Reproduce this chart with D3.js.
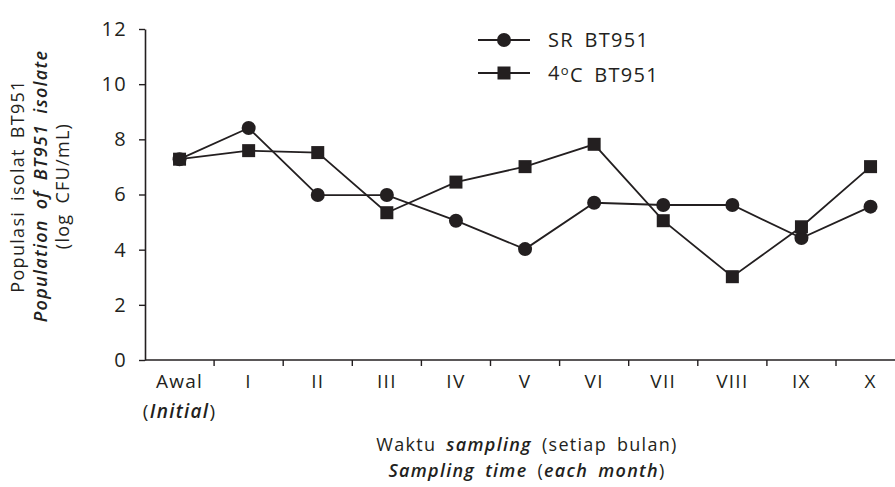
<!DOCTYPE html>
<html>
<head>
<meta charset="utf-8">
<script src="https://cdn.jsdelivr.net/npm/d3@7"></script>
<style>
  body { margin: 0; background: #fff; }
  text { font-family: "Open Sans", sans-serif; fill: #231f20; letter-spacing: 1.3px; word-spacing: 4px; }
</style>
</head>
<body>
<div id="chart"></div>
<script>
// data
var categories = ["Awal", "I", "II", "III", "IV", "V", "VI", "VII", "VIII", "IX", "X"];
var srValues   = [7.28, 8.41, 5.98, 5.98, 5.05, 4.02, 5.70, 5.62, 5.62, 4.42, 5.56];
var coldValues = [7.28, 7.59, 7.52, 5.34, 6.45, 7.01, 7.82, 5.05, 3.02, 4.83, 7.01];
var yTicks = [0, 2, 4, 6, 8, 10, 12];

// set the dimensions and margins of the graph
var margin = {top: 29, right: 0, bottom: 127, left: 145},
  width = 760 - margin.right,
  height = 360 - margin.top;

var svg = d3.select("#chart")
  .append("svg")
    .attr("width", 895)
    .attr("height", 487)
  .append("g")
    .attr("transform", "translate(" + margin.left + "," + margin.top + ")");

// x scale: bands, ticks on band edges
var x = d3.scaleBand()
  .domain(categories)
  .range([0, 69.1 * categories.length]);

var y = d3.scaleLinear()
  .domain([0, 12])
  .range([height, 0]);

// x axis
var xAxis = svg.append("g")
  .attr("transform", "translate(0," + height + ")")
  .call(d3.axisBottom(x).tickSize(0).tickSizeOuter(0).tickPadding(15));
xAxis.select(".domain").attr("stroke", "#231f20").attr("stroke-width", 1.6).attr("d", "M0,0H" + (895 - margin.left));
xAxis.selectAll(".tick text").style("font-size", "19px").attr("fill", "#231f20");
xAxis.selectAll(".edge")
  .data(categories.slice(1))
  .enter().append("line")
    .attr("x1", function(d) { return x(d); })
    .attr("x2", function(d) { return x(d); })
    .attr("y1", 0).attr("y2", 6)
    .attr("stroke", "#231f20").attr("stroke-width", 1.4);

// "(Initial)" under Awal
var initial = svg.append("text")
  .attr("x", x("Awal") + x.bandwidth() / 2)
  .attr("y", height + 58)
  .attr("text-anchor", "middle")
  .style("font-size", "19px");
initial.append("tspan").text("(");
initial.append("tspan").style("font-style", "italic").style("font-weight", "600").text("Initial");
initial.append("tspan").text(")");

// y axis
var yAxis = svg.append("g")
  .call(d3.axisLeft(y).tickValues(yTicks).tickSize(6).tickSizeOuter(0).tickPadding(12));
yAxis.select(".domain").attr("stroke", "#231f20").attr("stroke-width", 1.6);
yAxis.selectAll(".tick line").attr("stroke", "#231f20").attr("stroke-width", 1.4);
yAxis.selectAll(".tick text").style("font-size", "20px").attr("fill", "#231f20");

var cx = function(d, i) { return x(categories[i]) + x.bandwidth() / 2; };
var line = d3.line()
  .x(function(d, i) { return cx(d, i); })
  .y(function(d) { return y(d); });

// SR series (circles)
svg.append("path")
  .datum(srValues)
  .attr("fill", "none")
  .attr("stroke", "#231f20")
  .attr("stroke-width", 1.8)
  .attr("d", line);

// 4C series (squares)
svg.append("path")
  .datum(coldValues)
  .attr("fill", "none")
  .attr("stroke", "#231f20")
  .attr("stroke-width", 1.8)
  .attr("d", line);

svg.selectAll(".sr")
  .data(srValues)
  .enter().append("circle")
    .attr("cx", cx)
    .attr("cy", function(d) { return y(d); })
    .attr("r", 7)
    .attr("fill", "#231f20");

var sq = 13;
svg.selectAll(".cold")
  .data(coldValues)
  .enter().append("rect")
    .attr("x", function(d, i) { return cx(d, i) - sq / 2; })
    .attr("y", function(d) { return y(d) - sq / 2; })
    .attr("width", sq)
    .attr("height", sq)
    .attr("fill", "#231f20");

// Handmade legend
var lg = svg.append("g").attr("transform", "translate(" + (478 - margin.left) + "," + (40 - margin.top) + ")");
lg.append("line").attr("x1", 0).attr("x2", 52).attr("y1", 0).attr("y2", 0).attr("stroke", "#231f20").attr("stroke-width", 1.8);
lg.append("circle").attr("cx", 26).attr("cy", 0).attr("r", 7).attr("fill", "#231f20");
lg.append("text").attr("x", 70).attr("y", 0).attr("dy", "0.35em").style("font-size", "20px").text("SR BT951");
lg.append("line").attr("x1", 0).attr("x2", 52).attr("y1", 33).attr("y2", 33).attr("stroke", "#231f20").attr("stroke-width", 1.8);
lg.append("rect").attr("x", 26 - sq / 2).attr("y", 33 - sq / 2).attr("width", sq).attr("height", sq).attr("fill", "#231f20");
var t2 = lg.append("text").attr("x", 70).attr("y", 33).attr("dy", "0.35em").style("font-size", "20px");
t2.append("tspan").text("4");
t2.append("tspan").attr("dy", "-0.35em").style("font-size", "13px").text("o");
t2.append("tspan").attr("dy", "0.35em").text("C BT951");

// y axis title (three lines)
var yt = svg.append("g").attr("transform", "translate(" + (-margin.left) + "," + (186 - margin.top) + ") rotate(-90)");
yt.append("text").attr("x", 0).attr("y", 24).attr("text-anchor", "middle").style("font-size", "18px").text("Populasi isolat BT951");
yt.append("text").attr("x", 0).attr("y", 47).attr("text-anchor", "middle").style("font-size", "18px")
  .style("font-style", "italic").style("font-weight", "600").text("Population of BT951 isolate");
yt.append("text").attr("x", 0).attr("y", 69).attr("text-anchor", "middle").style("font-size", "18px").text("(log CFU/mL)");

// x axis title (two lines)
var xt1 = svg.append("text").attr("x", 527 - margin.left).attr("y", 451 - margin.top).attr("text-anchor", "middle").style("font-size", "18px");
xt1.append("tspan").text("Waktu ");
xt1.append("tspan").style("font-style", "italic").style("font-weight", "600").text("sampling");
xt1.append("tspan").text(" (setiap bulan)");
var xt2 = svg.append("text").attr("x", 527 - margin.left).attr("y", 477 - margin.top).attr("text-anchor", "middle").style("font-size", "18px");
xt2.append("tspan").style("font-style", "italic").style("font-weight", "600").text("Sampling time");
xt2.append("tspan").text(" (");
xt2.append("tspan").style("font-style", "italic").style("font-weight", "600").text("each month");
xt2.append("tspan").text(")");
</script>
</body>
</html>
